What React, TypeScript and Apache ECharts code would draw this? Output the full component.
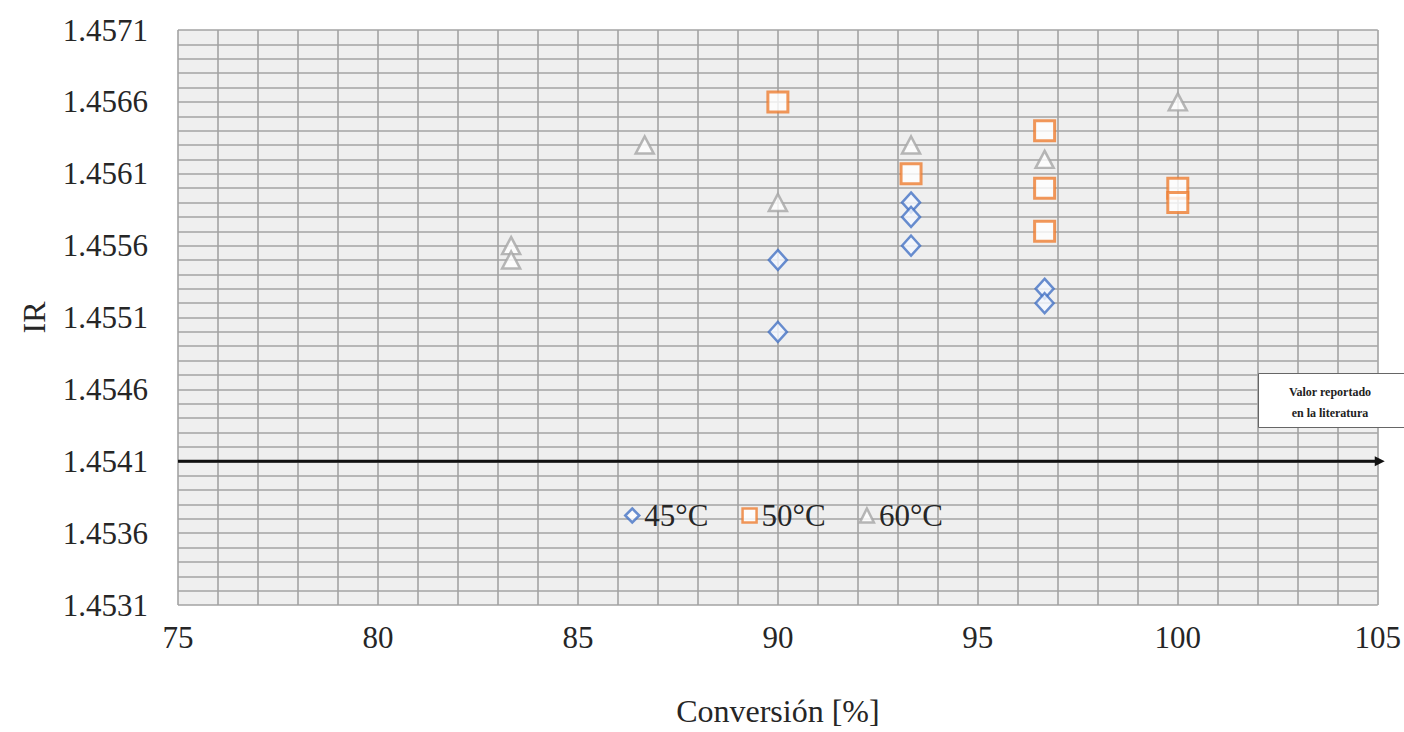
import React, { useEffect, useRef } from "react";
import * as echarts from "echarts";

const xTicks = [75, 80, 85, 90, 95, 100, 105];
const s45x = [90, 90, 93.33, 93.33, 93.33, 96.67, 96.67];
const s45y = [1.4555, 1.455, 1.4559, 1.4558, 1.4556, 1.4553, 1.4552];
const s50x = [90, 93.33, 96.67, 96.67, 96.67, 100, 100];
const s50y = [1.4566, 1.4561, 1.4564, 1.456, 1.4557, 1.456, 1.4559];
const s60x = [83.33, 83.33, 86.67, 90, 93.33, 96.67, 100];
const s60y = [1.4556, 1.4555, 1.4563, 1.4559, 1.4563, 1.4562, 1.4566];
const seriesNames = ["45°C", "50°C", "60°C"];
const literatureValue = 1.4541;
const literatureX = [75, 105.05];
const literatureLabel = ["Valor reportado", "en la literatura"];

const FONT = "Liberation Serif";
const TXT = "#262626";

export default function App() {
  const ref = useRef<HTMLDivElement>(null);
  useEffect(() => {
    if (!ref.current) return;
    const chart = echarts.init(ref.current, null, { renderer: "svg" });
    const pair = (xs: number[], ys: number[]) => xs.map((x, i) => [x, ys[i]]);
    const colors = ["#4472C4", "#ED7D31", "#A5A5A5"];
    const gridLine = { show: true, lineStyle: { color: "#a3a3a3", width: 1.6 } };
    chart.setOption({
      animation: false,
      textStyle: { fontFamily: FONT },
      grid: {
        left: 178,
        right: 26,
        top: 30,
        bottom: 127,
        show: true,
        backgroundColor: "#efefef",
        borderWidth: 0,
      },
      legend: {
        data: seriesNames.map((n, i) => ({
          name: n,
          icon: ["diamond", "rect", "triangle"][i],
          itemStyle: { color: "#fff", borderColor: colors[i], borderWidth: 2.5 },
        })),
        left: 619,
        top: 495,
        itemWidth: 14,
        itemHeight: 14,
        itemGap: 33,
        textStyle: { fontFamily: FONT, fontSize: 31, color: TXT },
      },
      xAxis: {
        type: "value",
        min: xTicks[0],
        max: xTicks[xTicks.length - 1],
        interval: 5,
        name: "Conversión [%]",
        nameLocation: "middle",
        nameGap: 90,
        nameTextStyle: { fontFamily: FONT, fontSize: 32, color: TXT },
        axisLine: { show: false },
        axisTick: { show: false },
        axisLabel: { fontFamily: FONT, fontSize: 31, color: TXT, margin: 17 },
        splitLine: gridLine,
        minorTick: { show: false, splitNumber: 5 },
        minorSplitLine: gridLine,
      },
      yAxis: {
        type: "value",
        min: 1.4531,
        max: 1.4571,
        interval: 0.0005,
        name: "IR",
        nameLocation: "middle",
        nameGap: 128,
        nameTextStyle: { fontFamily: FONT, fontSize: 32, color: TXT },
        axisLine: { show: false },
        axisTick: { show: false },
        axisLabel: {
          fontFamily: FONT,
          fontSize: 31,
          color: TXT,
          margin: 30,
          formatter: (v: number) => v.toFixed(4),
        },
        splitLine: gridLine,
        minorTick: { show: false, splitNumber: 5 },
        minorSplitLine: gridLine,
      },
      series: [
        {
          name: "literatura",
          type: "line",
          clip: false,
          silent: true,
          z: 5,
          lineStyle: { color: "#111", width: 3 },
          itemStyle: { color: "#111" },
          showSymbol: true,
          data: [
            { value: [literatureX[0], literatureValue], symbol: "none" },
            {
              value: [literatureX[1], literatureValue],
              symbol: "triangle",
              symbolRotate: -90,
              symbolSize: [10, 10],
            },
          ],
        },
        {
          name: seriesNames[0],
          type: "scatter",
          symbol: "diamond",
          symbolSize: [18, 20],
          itemStyle: { color: "#f4f8ff", borderColor: colors[0], borderWidth: 2.5 },
          data: pair(s45x, s45y),
          z: 4,
        },
        {
          name: seriesNames[1],
          type: "scatter",
          symbol: "rect",
          symbolSize: 20,
          itemStyle: { color: "#fff", borderColor: colors[1], borderWidth: 3 },
          data: pair(s50x, s50y),
          z: 3,
        },
        {
          name: seriesNames[2],
          type: "scatter",
          symbol: "triangle",
          symbolSize: [18, 17],
          itemStyle: { color: "#fff", borderColor: colors[2], borderWidth: 2.5 },
          data: pair(s60x, s60y),
          z: 2,
        },
      ],
      graphic: [
        {
          type: "rect",
          left: 1258,
          top: 373,
          shape: { width: 146, height: 54 },
          style: { fill: "#fff", stroke: "#666", lineWidth: 1 },
          z: 10,
        },
        {
          type: "text",
          x: 1330,
          y: 381,
          style: {
            text: literatureLabel.join("\n"),
            fontFamily: FONT,
            fontSize: 12,
            fontWeight: "bold",
            lineHeight: 21,
            align: "center",
            fill: "#222",
          },
          z: 11,
        },
      ],
    });
    return () => chart.dispose();
  }, []);
  return (
    <div
      ref={ref}
      style={{ position: "fixed", left: 0, top: 0, width: 1404, height: 732, background: "#fff" }}
    />
  );
}
